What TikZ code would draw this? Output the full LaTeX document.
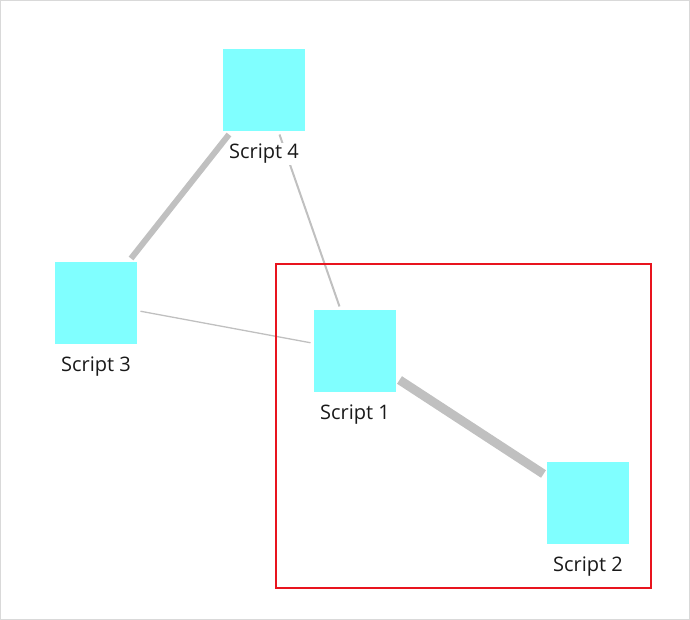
\documentclass[tikz,border=0pt]{standalone}
\usepackage{fontspec}
\setmainfont{Open Sans}
\usetikzlibrary{backgrounds}
\definecolor{scriptcyan}{HTML}{80FFFF}
\definecolor{linkgrey}{HTML}{C0C0C0}
\definecolor{framegrey}{HTML}{D9D9D9}
\definecolor{groupred}{HTML}{E8141E}

\begin{document}
\begin{tikzpicture}[x=1pt, y=-1pt,
  scriptbox/.style={fill=scriptcyan, minimum size=82pt, inner sep=0pt, outer sep=3.5pt},
  every label/.style={fill=white, inner sep=1.5pt, text=black!90, font=\fontsize{20}{23}\selectfont},
  label distance=8pt]
 \useasboundingbox (0,0) rectangle (690,620);
 \draw [framegrey] (0.5,0.5) rectangle (689.5,619.5);
 % group frame
 \draw [groupred, line width=1.5pt] (276,264) rectangle (651,588);
 % scripts
 \node (s4) [scriptbox, label=below:Script 4] at (264,90) {};
 \node (s3) [scriptbox, label=below:Script 3] at (96,303) {};
 \node (s1) [scriptbox, label=below:Script 1] at (355,351) {};
 \node (s2) [scriptbox, label=below:Script 2] at (588,503) {};
 \begin{pgfonlayer}{background}
   \draw [linkgrey, line width=6pt] (s4) -- (s3);
   \draw [linkgrey, line width=2pt] (s4) -- (s1);
   \draw [linkgrey, line width=1.3pt] (s3) -- (s1);
   \draw [linkgrey, line width=9pt] (s1) -- (s2);
 \end{pgfonlayer}
\end{tikzpicture}
\end{document}
